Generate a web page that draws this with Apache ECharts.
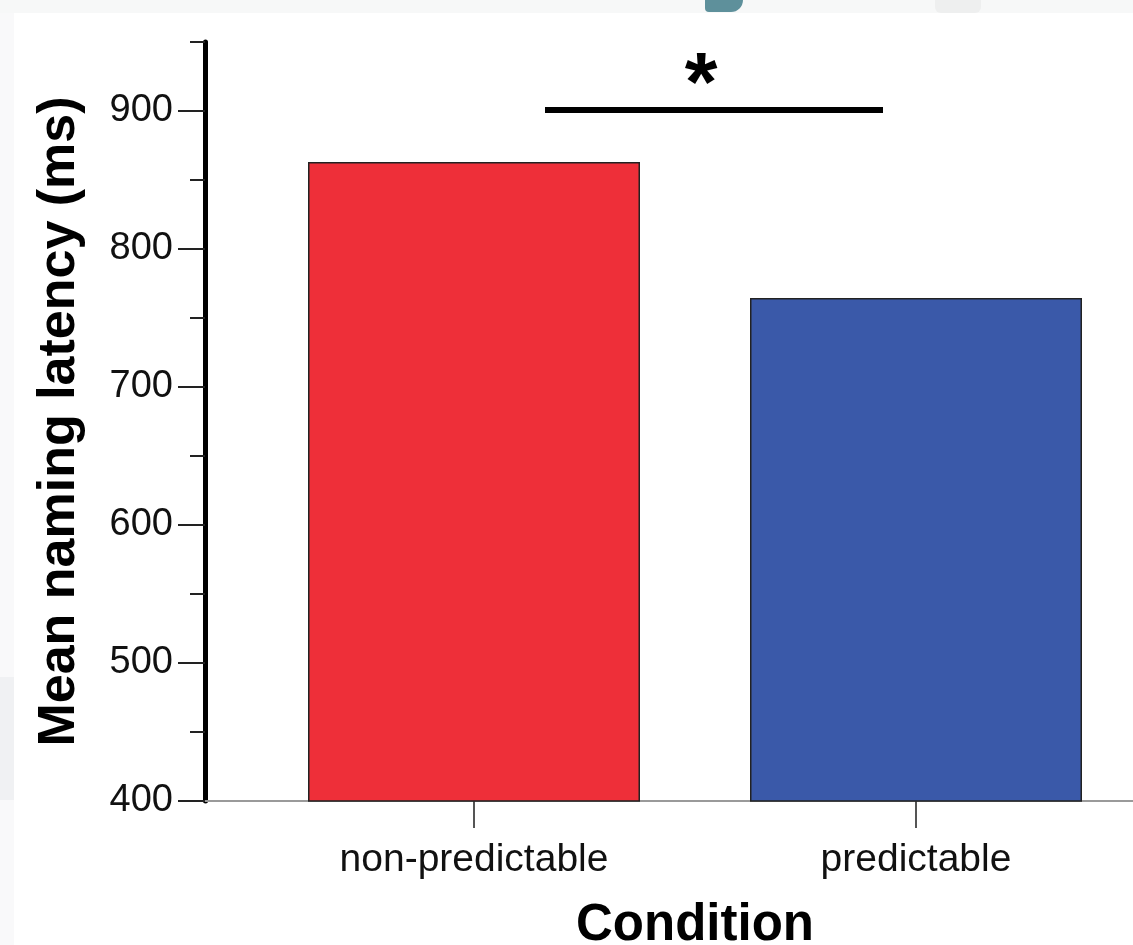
<!DOCTYPE html>
<html>
<head>
<meta charset="utf-8">
<script src="https://cdn.jsdelivr.net/npm/echarts@6/dist/echarts.min.js"></script>
<style>
  html, body { margin: 0; padding: 0; background: #fff; }
  #chart { width: 1133px; height: 945px; }
</style>
</head>
<body>
<div id="chart"></div>
<script>
// 数据
var conditions = ['non-predictable', 'predictable'];
var latency = [863, 764.5];
var barColors = ['#ee2f39', '#3a59a9'];
var majorTicks = [400, 500, 600, 700, 800, 900];
var minorTicks = [450, 550, 650, 750, 850, 950];

var font = '"Liberation Sans", Arial, sans-serif';
var myChart = echarts.init(document.getElementById('chart'));

myChart.setOption({
  backgroundColor: '#fff',
  animation: false,
  grid: { left: 253, top: 42, width: 884, height: 759, outerBoundsMode: 'none', containLabel: false },
  xAxis: {
    type: 'category',
    data: conditions,
    name: 'Condition',
    nameLocation: 'middle',
    nameGap: 99,
    nameTextStyle: { fontFamily: font, fontWeight: 'bold', fontSize: 51, color: '#000' },
    axisLine: { show: true, lineStyle: { color: '#9a9a9a', width: 2 } },
    axisTick: { show: true, interval: 0, alignWithLabel: true, length: 27, lineStyle: { color: '#555', width: 2 } },
    axisLabel: { margin: 40, fontFamily: font, fontSize: 39, color: '#111' },
    splitLine: { show: false }
  },
  yAxis: [{
    type: 'value',
    min: 400,
    max: 950,
    offset: 48,
    name: 'Mean naming latency (ms)',
    nameLocation: 'middle',
    nameGap: 119,
    nameTextStyle: { fontFamily: font, fontWeight: 'bold', fontSize: 52, color: '#000' },
    axisLine: { show: true, lineStyle: { color: '#000', width: 5 } },
    axisTick: { show: true, customValues: majorTicks, length: 27, lineStyle: { color: '#222', width: 2 } },
    axisLabel: { customValues: majorTicks, margin: 32, fontFamily: font, fontSize: 38, color: '#111' },
    splitLine: { show: false }
  }, {
    // 小刻度
    type: 'value',
    min: 400,
    max: 950,
    offset: 48,
    position: 'left',
    axisLine: { show: false },
    axisTick: { show: true, customValues: minorTicks, length: 15, lineStyle: { color: '#222', width: 2 } },
    axisLabel: { show: false },
    splitLine: { show: false }
  }],
  series: [{
    type: 'bar',
    data: latency.map(function (v, i) {
      return { value: v, itemStyle: { color: barColors[i] } };
    }),
    barWidth: 332,
    itemStyle: { borderColor: '#222', borderWidth: 1.5 }
  }],
  graphic: [
    // 背景残留
    { type: 'rect', shape: { x: 0, y: 0, width: 1133, height: 13 }, style: { fill: '#f7f8f8' }, z: -10 },
    { type: 'rect', shape: { x: 0, y: 13, width: 14, height: 932 }, style: { fill: '#f9f9fa' }, z: -10 },
    { type: 'rect', shape: { x: 0, y: 677, width: 14, height: 123 }, style: { fill: '#f0f1f3' }, z: -9 },
    { type: 'rect', shape: { x: 935, y: 0, width: 46, height: 13, r: [0, 0, 6, 6] }, style: { fill: '#eeefef' }, z: -9 },
    { type: 'rect', shape: { x: 705, y: 0, width: 38, height: 12, r: [0, 0, 12, 4] }, style: { fill: '#5e909b' }, z: -8 },
    // x 轴延长到 y 轴
    { type: 'line', shape: { x1: 205, y1: 801, x2: 253, y2: 801 }, style: { stroke: '#9a9a9a', lineWidth: 2 }, z: 1 },
    // 显著性标记
    { type: 'line', shape: { x1: 545, y1: 110, x2: 883, y2: 110 }, style: { stroke: '#000', lineWidth: 6 }, z: 10 },
    { type: 'text', x: 701, y: 46, style: { text: '*', fontFamily: font, fontWeight: 'bold', fontSize: 84, fill: '#000', textAlign: 'center', textVerticalAlign: 'top' }, z: 10 }
  ]
});

window.onresize = function () {
  myChart.resize();
};
</script>
</body>
</html>
